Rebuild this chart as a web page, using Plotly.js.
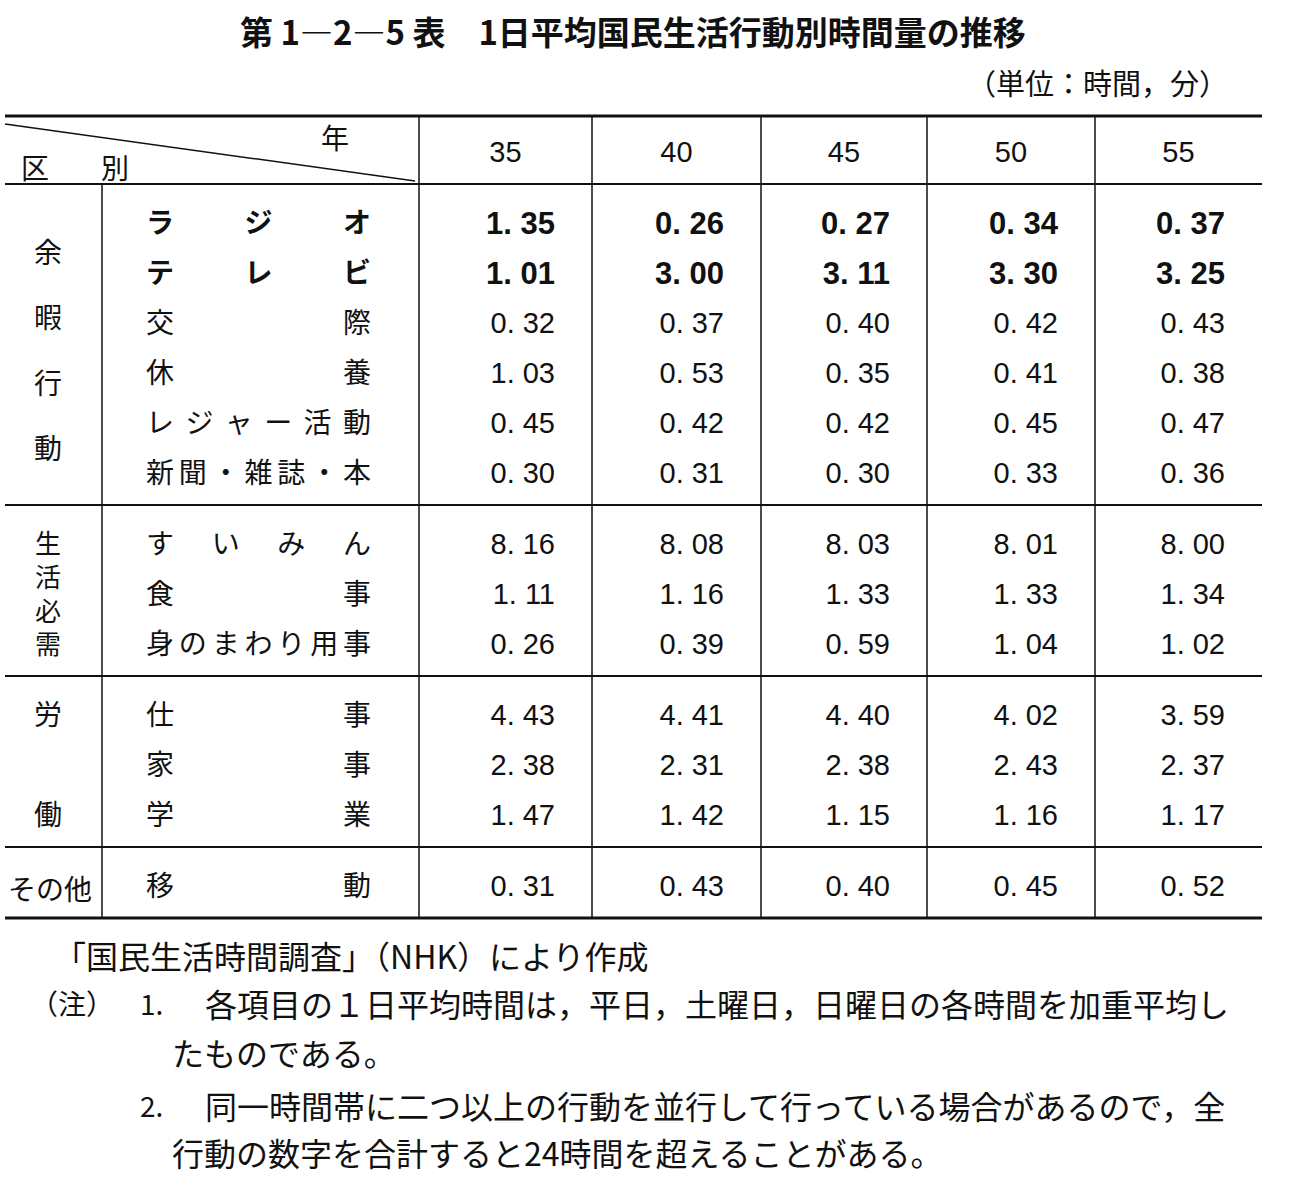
<!DOCTYPE html>
<html>
<head>
<meta charset="utf-8">
<script src="https://cdn.plot.ly/plotly-3.0.1.min.js"></script>
<style>
  html, body { margin: 0; padding: 0; background: #fff; }
  #chart { width: 1297px; height: 1185px; }
</style>
</head>
<body>
<div id="chart"></div>
<script>
// 第1-2-5表 1日平均国民生活行動別時間量の推移 (単位: 時間.分)
const years = ['35', '40', '45', '50', '55'];
const groupLabels = ['余暇行動', '生活必需', '労働', 'その他'];
const groupSizes = [6, 3, 3, 1];
const itemLabels = ['ラジオ', 'テレビ', '交際', '休養', 'レジャー活動', '新聞・雑誌・本',
                    'すいみん', '食事', '身のまわり用事',
                    '仕事', '家事', '学業',
                    '移動'];
const boldRows = [0, 1];
const v35 = [1.35, 1.01, 0.32, 1.03, 0.45, 0.30, 8.16, 1.11, 0.26, 4.43, 2.38, 1.47, 0.31];
const v40 = [0.26, 3.00, 0.37, 0.53, 0.42, 0.31, 8.08, 1.16, 0.39, 4.41, 2.31, 1.42, 0.43];
const v45 = [0.27, 3.11, 0.40, 0.35, 0.42, 0.30, 8.03, 1.33, 0.59, 4.40, 2.38, 1.15, 0.40];
const v50 = [0.34, 3.30, 0.42, 0.41, 0.45, 0.33, 8.01, 1.33, 1.04, 4.02, 2.43, 1.16, 0.45];
const v55 = [0.37, 3.25, 0.43, 0.38, 0.47, 0.36, 8.00, 1.34, 1.02, 3.59, 2.37, 1.17, 0.52];
const columns = [v35, v40, v45, v50, v55];

const footSource = '「国民生活時間調査」（NHK）により作成';
const notes = [
    ['各項目の１日平均時間は，平日，土曜日，日曜日の各時間を加重平均し', 'たものである。'],
    ['同一時間帯に二つ以上の行動を並行して行っている場合があるので，全', '行動の数字を合計すると24時間を超えることがある。']
];

// --- geometry (axis units == pixels) ---
const W = 1297, H = 1185;
const X0 = 5, X1 = 1262, XL = 102;
const colEdges = [419, 592, 761, 927, 1095, 1262];
const TOP = 116, HEAD_BOTTOM = 184, PITCH = 50, FIRST = 38, PAD = 21;
const LABEL_L = 160, LABEL_R = 357;
const DY = 4; // text baseline nudge

const CJK = '"Noto Sans CJK JP", "Noto Sans CJK SC", sans-serif';
const NUM = '"Liberation Sans", Arial, sans-serif';
const INK = '#111';

// section tops and row centres
const sectionTops = [];
let t = HEAD_BOTTOM;
groupSizes.forEach(n => { sectionTops.push(t); t += PITCH * n + PAD; });
const BOTTOM = t;

const rowY = [];
groupSizes.forEach((n, g) => {
    for (let k = 0; k < n; k++) rowY.push(sectionTops[g] + FIRST + PITCH * k);
});

const fmt = v => v.toFixed(2).replace('.', '. ');
const isBold = i => boldRows.includes(i);

const traces = [];

// numbers, right aligned in each year column
columns.forEach((vals, c) => {
    const xr = colEdges[c + 1] - 37;
    [false, true].forEach(bold => {
        const idx = vals.map((_, i) => i).filter(i => isBold(i) === bold);
        traces.push({
            type: 'scatter', mode: 'text',
            x: idx.map(() => xr),
            y: idx.map(i => rowY[i] + DY),
            text: idx.map(i => fmt(vals[i])),
            textposition: 'middle left',
            textfont: { family: NUM, size: bold ? 31 : 29, color: INK, weight: bold ? 'bold' : 'normal' },
            hoverinfo: 'skip', showlegend: false
        });
    });
});

// year headers
traces.push({
    type: 'scatter', mode: 'text',
    x: years.map((_, c) => (colEdges[c] + colEdges[c + 1]) / 2),
    y: years.map(() => 152 + DY - 1),
    text: years,
    textposition: 'middle center',
    textfont: { family: NUM, size: 29, color: INK },
    hoverinfo: 'skip', showlegend: false
});

// item labels, characters spread evenly across the label cell
[false, true].forEach(bold => {
    const xs = [], ys = [], tx = [];
    itemLabels.forEach((lab, i) => {
        if (isBold(i) !== bold) return;
        const chars = [...lab];
        const step = (LABEL_R - LABEL_L) / (chars.length - 1);
        chars.forEach((ch, j) => {
            xs.push(LABEL_L + step * j);
            ys.push(rowY[i] + DY);
            tx.push(ch);
        });
    });
    traces.push({
        type: 'scatter', mode: 'text', x: xs, y: ys, text: tx,
        textposition: 'middle center',
        textfont: { family: CJK, size: 28, color: INK, weight: bold ? 'bold' : 'normal' },
        hoverinfo: 'skip', showlegend: false
    });
});

// group labels written vertically: spread groups (余暇行動, 労働)
const groupSpan = [[68, 264], null, [FIRST, FIRST + 100], null];
const gx = [], gy = [], gt = [];
groupLabels.forEach((lab, g) => {
    if (!groupSpan[g]) return;
    const chars = [...lab];
    const [a, b] = groupSpan[g];
    const step = (b - a) / (chars.length - 1);
    chars.forEach((ch, j) => {
        gx.push(48);
        gy.push(sectionTops[g] + a + step * j + DY);
        gt.push(ch);
    });
});
traces.push({
    type: 'scatter', mode: 'text', x: gx, y: gy, text: gt,
    textposition: 'middle center',
    textfont: { family: CJK, size: 28, color: INK },
    hoverinfo: 'skip', showlegend: false
});

// rules
const line = (x0, y0, x1, y1, w) => ({
    type: 'line', xref: 'x', yref: 'y', x0, y0, x1, y1,
    line: { color: INK, width: w }
});
const shapes = [
    line(X0, TOP, X1, TOP, 3),
    line(X0, HEAD_BOTTOM, X1, HEAD_BOTTOM, 2),
    line(X0, 124, 415, 181, 1.5),
    line(XL, HEAD_BOTTOM, XL, BOTTOM, 1.5)
];
sectionTops.slice(1).forEach(y => shapes.push(line(X0, y, X1, y, 2)));
shapes.push(line(X0, BOTTOM, X1, BOTTOM, 3));
colEdges.slice(0, -1).forEach(x => shapes.push(line(x, TOP, x, BOTTOM, 1.5)));

// texts
const ann = (text, x, y, size, opts = {}) => Object.assign({
    text, x, y, xref: 'x', yref: 'y', showarrow: false,
    xanchor: 'left', yanchor: 'middle',
    font: { family: CJK, size, color: INK }
}, opts);

const annotations = [
    ann('第 1―2―5 表　1日平均国民生活行動別時間量の推移', 633, 31, 33,
        { xanchor: 'center', font: { family: CJK, size: 33, color: INK, weight: 'bold' } }),
    ann('（単位：時間，分）', 1230, 82, 29, { xanchor: 'right' }),
    ann('年', 335, 137, 28, { xanchor: 'center' }),
    ann('区', 35, 167, 28, { xanchor: 'center' }),
    ann('別', 115, 167, 28, { xanchor: 'center' }),
    // 生活必需: tightly stacked column of four characters
    ann([...groupLabels[1]].join('<br>'), 48, sectionTops[1] + 87, 26, { xanchor: 'center' }),
    ann(groupLabels[3], 50, rowY[rowY.length - 1] + DY - 1, 28, { xanchor: 'center' }),
    ann(footSource, 52, 955, 32),
    ann('（注）', 28, 1003, 28),
    ann('1.', 138, 1003, 28),
    ann(notes[0][0], 203, 1003, 32),
    ann(notes[0][1], 170, 1052, 32),
    ann('2.', 138, 1105, 28),
    ann(notes[1][0], 203, 1105, 32),
    ann(notes[1][1], 170, 1152, 32)
];

const layout = {
    width: W, height: H,
    margin: { l: 0, r: 0, t: 0, b: 0 },
    paper_bgcolor: '#fff', plot_bgcolor: '#fff',
    xaxis: { range: [0, W], visible: false, fixedrange: true },
    yaxis: { range: [H, 0], visible: false, fixedrange: true },
    showlegend: false,
    shapes, annotations
};

Plotly.newPlot('chart', traces, layout, { staticPlot: true, displayModeBar: false });
</script>
</body>
</html>
